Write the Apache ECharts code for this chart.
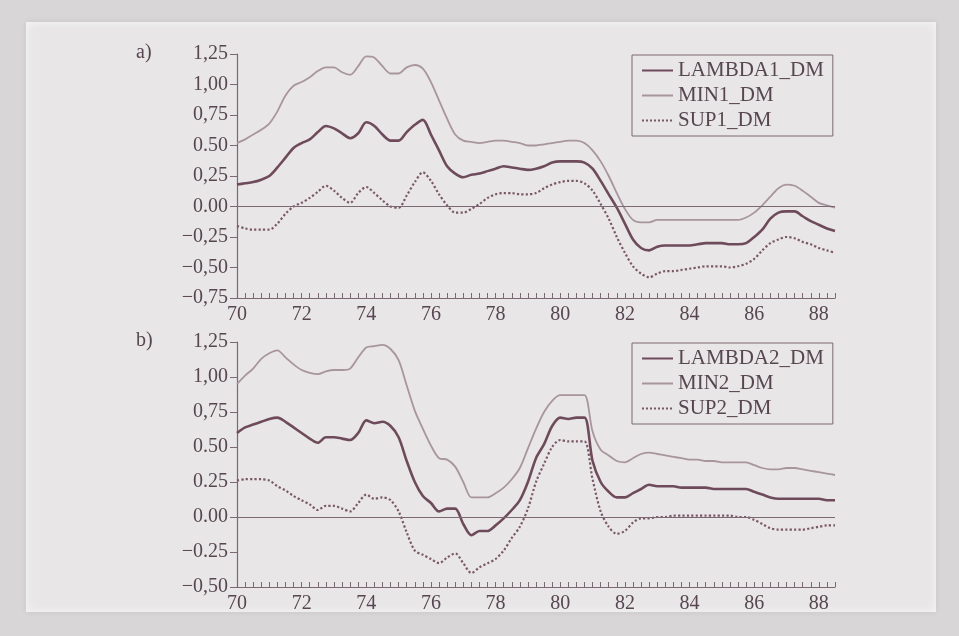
<!DOCTYPE html>
<html>
<head>
<meta charset="utf-8">
<script src="https://cdn.jsdelivr.net/npm/echarts@6/dist/echarts.min.js"></script>
<style>
  html, body { margin: 0; padding: 0; }
  body { width: 959px; height: 636px; background: #d8d6d7; position: relative; overflow: hidden; }
  .sheet {
    position: absolute; left: 26px; top: 22px; width: 910px; height: 590px;
    background: #e8e6e7;
    box-shadow: inset 0 0 10px rgba(255, 255, 255, 0.7), 0 0 6px rgba(0, 0, 0, 0.08);
  }
  #chart { position: absolute; left: 0; top: 0; width: 959px; height: 636px; }
</style>
</head>
<body>
<div class="sheet"></div>
<div id="chart"></div>
<script>
// quarterly time grid 70.00 .. 88.50
const quarters = Array.from({ length: 75 }, (_, i) => 70 + i * 0.25);

const lambda1 = [
  0.18, 0.19, 0.20, 0.22,  0.25, 0.32, 0.40, 0.48,  0.52, 0.55, 0.61, 0.66,
  0.64, 0.60, 0.56, 0.60,  0.69, 0.66, 0.59, 0.54,  0.54, 0.61, 0.67, 0.71,
  0.59, 0.46, 0.33, 0.27,  0.24, 0.26, 0.27, 0.29,  0.31, 0.33, 0.32, 0.31,
  0.30, 0.31, 0.33, 0.36,  0.37, 0.37, 0.37, 0.36,  0.31, 0.21, 0.10, -0.01,
  -0.14, -0.27, -0.34, -0.36,  -0.33, -0.32, -0.32, -0.32,  -0.32, -0.31, -0.30, -0.30,
  -0.30, -0.31, -0.31, -0.30,  -0.25, -0.19, -0.10, -0.05,  -0.04, -0.04, -0.08, -0.12,
  -0.15, -0.18, -0.20
];
const min1 = [
  0.52, 0.55, 0.59, 0.63,  0.68, 0.78, 0.91, 0.99,  1.02, 1.06, 1.11, 1.14,
  1.14, 1.10, 1.08, 1.15,  1.23, 1.22, 1.15, 1.09,  1.09, 1.14, 1.16, 1.13,
  1.02, 0.87, 0.72, 0.59,  0.54, 0.53, 0.52, 0.53,  0.54, 0.54, 0.53, 0.52,
  0.50, 0.50, 0.51, 0.52,  0.53, 0.54, 0.54, 0.52,  0.46, 0.37, 0.25, 0.11,
  -0.02, -0.11, -0.13, -0.13,  -0.11, -0.11, -0.11, -0.11,  -0.11, -0.11, -0.11, -0.11,
  -0.11, -0.11, -0.11, -0.09,  -0.05, 0.01, 0.08, 0.15,  0.18, 0.17, 0.13, 0.08,
  0.03, 0.01, -0.01
];
const sup1 = [
  -0.16, -0.18, -0.19, -0.19,  -0.19, -0.14, -0.06, 0.00,  0.03, 0.07, 0.12, 0.17,
  0.13, 0.07, 0.03, 0.11,  0.16, 0.11, 0.05, 0.00,  -0.01, 0.09, 0.20, 0.28,
  0.21, 0.10, 0.01, -0.05,  -0.05, -0.02, 0.02, 0.07,  0.10, 0.11, 0.11, 0.10,
  0.10, 0.11, 0.15, 0.18,  0.20, 0.21, 0.21, 0.19,  0.13, 0.02, -0.10, -0.25,
  -0.38, -0.49, -0.55, -0.58,  -0.55, -0.53, -0.53, -0.52,  -0.51, -0.50, -0.49, -0.49,
  -0.49, -0.50, -0.49, -0.47,  -0.43, -0.36, -0.30, -0.27,  -0.25, -0.26, -0.29, -0.31,
  -0.34, -0.36, -0.38
];

const lambda2 = [
  0.60, 0.64, 0.66, 0.68,  0.70, 0.71, 0.68, 0.64,  0.60, 0.56, 0.53, 0.57,
  0.57, 0.56, 0.55, 0.60,  0.69, 0.67, 0.68, 0.65,  0.57, 0.40, 0.25, 0.15,
  0.10, 0.04, 0.06, 0.06,  -0.05, -0.13, -0.10, -0.10,  -0.06, -0.01, 0.05, 0.12,
  0.25, 0.42, 0.52, 0.65,  0.71, 0.70, 0.71, 0.71,  0.40, 0.25, 0.18, 0.14,
  0.14, 0.17, 0.20, 0.23,  0.22, 0.22, 0.22, 0.21,  0.21, 0.21, 0.21, 0.20,
  0.20, 0.20, 0.20, 0.20,  0.18, 0.16, 0.14, 0.13,  0.13, 0.13, 0.13, 0.13,
  0.13, 0.12, 0.12
];
const min2 = [
  0.95, 1.01, 1.06, 1.13,  1.17, 1.19, 1.14, 1.09,  1.05, 1.03, 1.02, 1.04,
  1.05, 1.05, 1.06, 1.14,  1.21, 1.22, 1.23, 1.20,  1.12, 0.94, 0.76, 0.63,
  0.51, 0.42, 0.41, 0.36,  0.25, 0.14, 0.14, 0.14,  0.17, 0.21, 0.27, 0.35,
  0.49, 0.63, 0.75, 0.83,  0.87, 0.87, 0.87, 0.87,  0.61, 0.48, 0.44, 0.40,
  0.39, 0.42, 0.45, 0.46,  0.45, 0.44, 0.43, 0.42,  0.41, 0.41, 0.40, 0.40,
  0.39, 0.39, 0.39, 0.39,  0.37, 0.35, 0.34, 0.34,  0.35, 0.35, 0.34, 0.33,
  0.32, 0.31, 0.30
];
const sup2 = [
  0.26, 0.27, 0.27, 0.27,  0.26, 0.22, 0.19, 0.15,  0.12, 0.09, 0.05, 0.08,
  0.08, 0.06, 0.04, 0.10,  0.16, 0.13, 0.14, 0.12,  0.04, -0.11, -0.24, -0.27,
  -0.30, -0.33, -0.29, -0.26,  -0.33, -0.40, -0.36, -0.33,  -0.30, -0.24, -0.15, -0.07,
  0.06, 0.25, 0.38, 0.50,  0.55, 0.54, 0.54, 0.54,  0.27, 0.04, -0.07, -0.12,
  -0.10, -0.04, -0.01, -0.01,  0.00, 0.00, 0.01, 0.01,  0.01, 0.01, 0.01, 0.01,
  0.01, 0.01, 0.00, 0.00,  -0.02, -0.05, -0.08, -0.09,  -0.09, -0.09, -0.09, -0.08,
  -0.07, -0.06, -0.06
];

// tick labels as printed (the scan mixes commas and points)
const tickLabelsA = ['\u22120,75', '\u22120,50', '\u22120,25', '0.00', '0,25', '0.50', '0,75', '1,00', '1,25'];
const tickLabelsB = ['\u22120,50', '\u22120.25', '0.00', '0.25', '0.50', '0,75', '1,00', '1,25'];

const FONT = '"Liberation Serif", "DejaVu Serif", serif';
const AXIS = '#7b6872';
const TEXT = '#574650';
const C_LAMBDA = '#6e4b5a';
const C_MIN = '#a8959d';
const C_SUP = '#7b5867';

const zip = (ys) => quarters.map((q, i) => [q, ys[i]]);

const xAxisFor = (gridIndex) => ({
  type: 'value',
  gridIndex,
  min: 70,
  max: 88.5,
  interval: 2,
  axisLine: { onZero: false, lineStyle: { color: AXIS, width: 1.2 } },
  axisTick: { inside: true, length: 5, lineStyle: { color: AXIS } },
  minorTick: { show: true, splitNumber: 8, length: 5, lineStyle: { color: AXIS } },
  splitLine: { show: false },
  axisLabel: { color: TEXT, fontFamily: FONT, fontSize: 20, margin: 7, showMaxLabel: false }
});

const yAxisFor = (gridIndex, min, labels) => ({
  type: 'value',
  gridIndex,
  min,
  max: 1.25,
  interval: 0.25,
  axisLine: { show: true, lineStyle: { color: AXIS, width: 1.2 } },
  axisTick: { show: true, length: 7, lineStyle: { color: AXIS } },
  splitLine: { show: false },
  axisLabel: {
    color: TEXT, fontFamily: FONT, fontSize: 20, margin: 9,
    formatter: (v) => labels[Math.round((v - min) / 0.25)]
  }
});

const lineSeries = (name, ys, idx, color, width, type, zeroLine) => {
  const s = {
    name,
    type: 'line',
    xAxisIndex: idx,
    yAxisIndex: idx,
    data: zip(ys),
    symbol: 'none',
    smooth: 0.3,
    lineStyle: { color, width, type },
    itemStyle: { color },
    z: 3
  };
  if (zeroLine) {
    s.markLine = {
      silent: true,
      symbol: 'none',
      label: { show: false },
      lineStyle: { color: AXIS, width: 1.2, type: 'solid' },
      data: [{ yAxis: 0 }]
    };
  }
  return s;
};

const legendFor = (top, names) => ({
  data: names,
  orient: 'vertical',
  left: 632,
  top,
  padding: [5, 9, 5, 9],
  itemGap: 4,
  itemWidth: 31,
  itemHeight: 14,
  itemStyle: { opacity: 0 },
  borderColor: AXIS,
  borderWidth: 1,
  borderRadius: 0,
  textStyle: { color: TEXT, fontFamily: FONT, fontSize: 21, lineHeight: 20 }
});

const chart = echarts.init(document.getElementById('chart'), null, { renderer: 'canvas' });

chart.setOption({
  backgroundColor: 'transparent',
  animation: false,
  grid: [
    { left: 237, top: 54, width: 598, height: 244 },
    { left: 237, top: 342, width: 598, height: 245 }
  ],
  xAxis: [xAxisFor(0), xAxisFor(1)],
  yAxis: [yAxisFor(0, -0.75, tickLabelsA), yAxisFor(1, -0.5, tickLabelsB)],
  legend: [
    legendFor(55, ['LAMBDA1_DM', 'MIN1_DM', 'SUP1_DM']),
    legendFor(343, ['LAMBDA2_DM', 'MIN2_DM', 'SUP2_DM'])
  ],
  graphic: [
    { type: 'text', left: 136, top: 43, style: { text: 'a)', fill: TEXT, font: '20px ' + FONT } },
    { type: 'text', left: 136, top: 331, style: { text: 'b)', fill: TEXT, font: '20px ' + FONT } }
  ],
  series: [
    lineSeries('LAMBDA1_DM', lambda1, 0, C_LAMBDA, 2.6, 'solid', true),
    lineSeries('MIN1_DM', min1, 0, C_MIN, 1.8, 'solid', false),
    lineSeries('SUP1_DM', sup1, 0, C_SUP, 2.2, 'dotted', false),
    lineSeries('LAMBDA2_DM', lambda2, 1, C_LAMBDA, 2.6, 'solid', true),
    lineSeries('MIN2_DM', min2, 1, C_MIN, 1.8, 'solid', false),
    lineSeries('SUP2_DM', sup2, 1, C_SUP, 2.2, 'dotted', false)
  ]
});
</script>
</body>
</html>
